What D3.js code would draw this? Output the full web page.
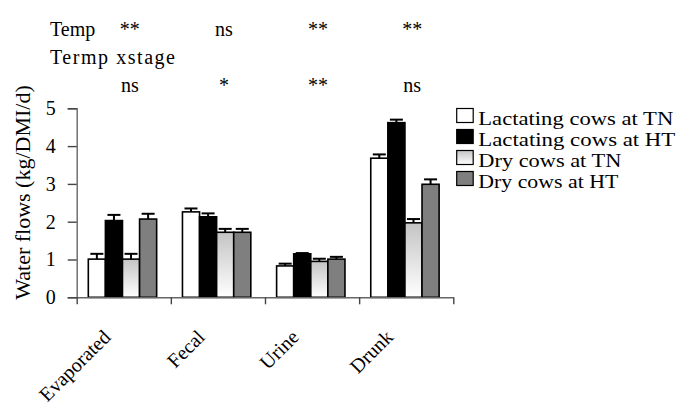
<!DOCTYPE html>
<html>
<head>
<meta charset="utf-8">
<script src="https://cdn.jsdelivr.net/npm/d3@7/dist/d3.min.js"></script>
</head>
<body style="margin:0">
<svg id="chart" width="684" height="403" font-family="Liberation Serif"></svg>
<script>
'use strict';

// * data
var categories = ['Evaporated', 'Fecal', 'Urine', 'Drunk'];
var seriesNames = ['Lactating cows at TN', 'Lactating cows at HT', 'Dry cows at TN', 'Dry cows at HT'];

var lactTN = [1.01, 2.26, 0.83, 3.68];
var lactHT = [2.03, 2.13, 1.15, 4.62];
var dryTN  = [1.01, 1.72, 0.95, 1.97];
var dryHT  = [2.07, 1.72, 1.01, 2.99];

var lactTNErr = [0.14, 0.09, 0.06, 0.10];
var lactHTErr = [0.15, 0.09, 0.02, 0.08];
var dryTNErr  = [0.14, 0.09, 0.07, 0.10];
var dryHTErr  = [0.14, 0.09, 0.06, 0.13];

var tempSig  = ['**', 'ns', '**', '**'];
var interSig = ['ns', '*', '**', 'ns'];

var yTicks = [0, 1, 2, 3, 4, 5];

var values = [lactTN, lactHT, dryTN, dryHT];
var errors = [lactTNErr, lactHTErr, dryTNErr, dryHTErr];

// - geometry
var plotLeft = 76.7, plotRight = 453.3, plotTop = 108.3, plotBottom = 297.3;
// the legend in the original is stretched sideways, so pin its text widths
var legendTextWidth = [195, 197, 143, 140];

var svg = d3.select('#chart');

var defs = svg.append('defs');
var grad = defs.append('linearGradient')
	.attr('id', 'dryTN').attr('x1', 0).attr('y1', 0).attr('x2', 0).attr('y2', 1);
grad.append('stop').attr('offset', '0%').attr('stop-color', '#c4c4c4');
grad.append('stop').attr('offset', '100%').attr('stop-color', '#ffffff');

var fills = ['#ffffff', '#000000', 'url(#dryTN)', '#7f7f7f'];

var x = d3.scaleBand().domain(categories).range([plotLeft, plotRight]).padding(0);
var xs = d3.scaleBand().domain(d3.range(seriesNames.length))
	.range([0, x.bandwidth()]).paddingInner(0).paddingOuter(0.755).align(0.45);
var y = d3.scaleLinear().domain([0, 5]).range([plotBottom, plotTop]);

// - bars
var groups = svg.selectAll('g.cat')
	.data(categories)
	.join('g')
		.attr('class', 'cat')
		.attr('transform', d => `translate(${x(d)},0)`);

var rows = (c, ci) => values.map((s, si) => ({ si: si, v: s[ci], e: errors[si][ci] }));

groups.selectAll('rect')
	.data(rows)
	.join('rect')
		.attr('x', d => xs(d.si))
		.attr('y', d => y(d.v))
		.attr('width', xs.bandwidth())
		.attr('height', d => y(0) - y(d.v))
		.attr('fill', d => fills[d.si])
		.attr('stroke', '#000')
		.attr('stroke-width', 1.6);

// - error bars
var errG = groups.selectAll('g.err')
	.data(rows)
	.join('g')
		.attr('class', 'err')
		.attr('stroke', '#000')
		.attr('stroke-width', 2);

errG.append('line')
	.attr('x1', d => xs(d.si) + xs.bandwidth() / 2)
	.attr('x2', d => xs(d.si) + xs.bandwidth() / 2)
	.attr('y1', d => y(d.v))
	.attr('y2', d => y(d.v + d.e));

errG.append('line')
	.attr('x1', d => xs(d.si) + xs.bandwidth() / 2 - 6.5)
	.attr('x2', d => xs(d.si) + xs.bandwidth() / 2 + 6.5)
	.attr('y1', d => y(d.v + d.e))
	.attr('y2', d => y(d.v + d.e));

// - y axis
var yAxis = svg.append('g')
	.attr('transform', `translate(${plotLeft},0)`)
	.call(d3.axisLeft(y).tickValues(yTicks).tickFormat(d3.format('d')).tickSize(9).tickPadding(12))
	.attr('font-family', 'Liberation Serif')
	.attr('font-size', 20);
yAxis.select('.domain').attr('stroke', '#666').attr('stroke-width', 1.4);
yAxis.selectAll('.tick line').attr('stroke', '#444').attr('stroke-width', 1.4);

// - x axis, ticks at category boundaries
var xb = d3.scaleLinear().domain([0, categories.length]).range([plotLeft, plotRight]);
var xAxis = svg.append('g')
	.attr('transform', `translate(0,${plotBottom})`)
	.call(d3.axisBottom(xb).ticks(categories.length).tickFormat('').tickSize(7).tickSizeOuter(0));
xAxis.select('.domain').attr('stroke', '#666').attr('stroke-width', 1.4);
xAxis.selectAll('.tick line').attr('stroke', '#444').attr('stroke-width', 1.4);

// - rotated category labels
svg.selectAll('text.cat')
	.data(categories)
	.join('text')
		.attr('class', 'cat')
		.attr('text-anchor', 'end')
		.attr('font-size', 20)
		.attr('transform', d => `translate(${x(d) + x.bandwidth() / 2 - 12},${plotBottom + 41}) rotate(-45)`)
		.text(d => d);

// - y title
svg.append('text')
	.attr('text-anchor', 'middle')
	.attr('font-size', 22)
	.attr('transform', 'translate(30,192.5) rotate(-90)')
	.text('Water flows (kg/DMI/d)');

// - significance rows
svg.append('text').attr('x', 50).attr('y', 36).attr('font-size', 20).text('Temp');
svg.append('text').attr('x', 50).attr('y', 64).attr('font-size', 20)
	.attr('textLength', 125).attr('lengthAdjust', 'spacing')
	.text('Termp xstage');

svg.selectAll('text.sig1')
	.data(tempSig)
	.join('text')
		.attr('class', 'sig1')
		.attr('text-anchor', 'middle')
		.attr('font-size', 20)
		.attr('x', (d, i) => x(categories[i]) + x.bandwidth() / 2 + 6)
		.attr('y', 36)
		.text(d => d);

svg.selectAll('text.sig2')
	.data(interSig)
	.join('text')
		.attr('class', 'sig2')
		.attr('text-anchor', 'middle')
		.attr('font-size', 20)
		.attr('x', (d, i) => x(categories[i]) + x.bandwidth() / 2 + 6)
		.attr('y', 92)
		.text(d => d);

// - legend
var legend = svg.append('g').attr('transform', 'translate(456.7,0)');
var items = legend.selectAll('g')
	.data(seriesNames)
	.join('g')
		.attr('transform', (d, i) => `translate(0,${125 + i * 21})`);

items.append('rect')
	.attr('x', 0).attr('y', -16.5)
	.attr('width', 16.5).attr('height', 14)
	.attr('fill', (d, i) => fills[i])
	.attr('stroke', '#000').attr('stroke-width', 1.2);

items.append('text')
	.attr('x', 21.6).attr('y', 0)
	.attr('font-size', 19)
	.attr('textLength', (d, i) => legendTextWidth[i])
	.attr('lengthAdjust', 'spacingAndGlyphs')
	.text(d => d);

svg.selectAll('text')
	.attr('font-family', 'Liberation Serif')
	.attr('fill', '#000');
</script>
</body>
</html>
